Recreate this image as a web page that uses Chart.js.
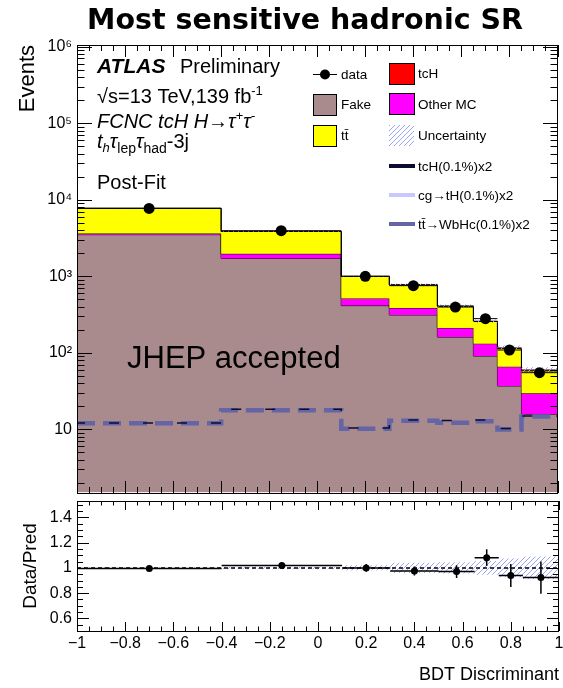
<!DOCTYPE html>
<html>
<head>
<meta charset="utf-8">
<title>Most sensitive hadronic SR</title>
<script src="https://cdn.jsdelivr.net/npm/chart.js@4.4.1/dist/chart.umd.min.js"></script>
<style>
  body { margin: 0; background: #fff; }
  #plot { position: relative; width: 563px; height: 688px; }
  #plot canvas { position: absolute; left: 0; }
  #main { top: 0; }
  #ratio { top: 497px; }
</style>
</head>
<body>
<div id="plot">
  <canvas id="main" width="563" height="498"></canvas>
  <canvas id="ratio" width="563" height="191"></canvas>
</div>
<script>
// BDT bins and post-fit yields
const binEdges = [-1, -0.4, 0.1, 0.3, 0.5, 0.65, 0.75, 0.85, 1];
const fake     = [3500, 1710, 414, 313, 161, 91, 37, 15.8];
const otherMC  = [130, 255, 100, 73, 51, 41, 29, 13.9];
const ttbar    = [4100, 1895, 483, 385, 195, 125, 48, 28.2];
const tcH      = [5, 5, 3, 3, 2, 2, 2, 1.8];
const dataEvents   = [7700, 3940, 1000, 755, 397, 280, 109, 55.1];
const dataRatioErr = [0.011, 0.016, 0.03, 0.035, 0.05, 0.066, 0.092, 0.127];
const relUncert    = [0.005, 0.01, 0.02, 0.04, 0.045, 0.055, 0.075, 0.09];

// signal templates, scaled x2
const sigTcH  = [12.1, 18.3, 10.4, 13.3, 13.1, 13.3, 10.3, 15.0];
const sigCgtH = [0.1, 0.5, 0.2, 0.3, 0.9, 0.5, 0.3, 0.2];
const sigWbHc = [12.0, 17.8, 10.2, 13.0, 12.2, 12.8, 10.0, 14.8];

const xTicks = [-1, -0.8, -0.6, -0.4, -0.2, 0, 0.2, 0.4, 0.6, 0.8, 1];
const yDecades = [10, 100, 1000, 10000, 100000, 1000000];
const ratioTicks = [0.6, 0.8, 1, 1.2, 1.4];

const SANS = '"Liberation Sans", Arial, Helvetica, sans-serif';
const C_FAKE = '#a98b8d';
const C_OTHER = '#ff00ff';
const C_TT = '#ffff00';
const C_TCH = '#ff0000';
const C_SIG = '#0b0b33';
const C_CG = '#c8c8ff';
const C_WBHC = '#6464a6';

function f(size, style) { return (style || '') + ' ' + size + 'px ' + SANS; }

function steps(vals) {
  const pts = vals.map((v, i) => ({ x: binEdges[i], y: v }));
  pts.push({ x: binEdges[binEdges.length - 1], y: vals[vals.length - 1] });
  return pts;
}
function addUp(...arrs) {
  return arrs[0].map((_, i) => arrs.reduce((s, a) => s + a[i], 0));
}

const centers = binEdges.slice(0, -1).map((e, i) => (e + binEdges[i + 1]) / 2);
const cumOther = addUp(fake, otherMC);
const cumTt = addUp(fake, otherMC, ttbar);
const totalPred = addUp(fake, otherMC, ttbar, tcH);
const ratio = dataEvents.map((d, i) => d / totalPred[i]);

function hatch(color) {
  const c = document.createElement('canvas');
  c.width = 5; c.height = 5;
  const g = c.getContext('2d');
  g.strokeStyle = color;
  g.lineWidth = 1;
  g.beginPath();
  g.moveTo(0, 5); g.lineTo(5, 0);
  g.moveTo(-1, 1); g.lineTo(1, -1);
  g.moveTo(4, 6); g.lineTo(6, 4);
  g.stroke();
  return g.createPattern(c, 'repeat');
}
const hatchFill = hatch('#9ea4f4');

function histLine(vals, fill, color, order) {
  return {
    data: steps(vals), stepped: 'before', fill: fill, backgroundColor: color,
    borderColor: '#000', borderWidth: 1, pointRadius: 0, order: order
  };
}
function dashLine(vals, color, width, dash, offset, order) {
  return {
    data: steps(vals), stepped: 'before', fill: false, borderColor: color,
    borderWidth: width, borderDash: dash, borderDashOffset: offset, pointRadius: 0, order: order
  };
}

// keep the plot frame fixed: no extra room for the end labels
function noEdgePadding(s) {
  s.paddingTop = 0; s.paddingBottom = 0; s.paddingLeft = 0; s.paddingRight = 0;
}

// ROOT style frame with inward ticks on all four sides
function frameTicks(xMarks, yMarks) {
  return {
    id: 'frameTicks',
    afterDraw(chart) {
      const { ctx, chartArea: a, scales } = chart;
      const L = Math.round(a.left), R = Math.round(a.right), T = Math.round(a.top), B = Math.round(a.bottom);
      ctx.save();
      ctx.strokeStyle = '#000';
      ctx.lineWidth = 1;
      ctx.beginPath();
      xMarks.forEach(([v, len]) => {
        const px = Math.round(scales.x.getPixelForValue(v)) + 0.5;
        ctx.moveTo(px, B); ctx.lineTo(px, B - len);
        ctx.moveTo(px, T); ctx.lineTo(px, T + len);
      });
      yMarks.forEach(([v, len]) => {
        const py = Math.round(scales.y.getPixelForValue(v)) + 0.5;
        ctx.moveTo(L, py); ctx.lineTo(L + len, py);
        ctx.moveTo(R, py); ctx.lineTo(R - len, py);
      });
      ctx.stroke();
      ctx.strokeRect(L + 0.5, T + 0.5, R - L - 1, B - T);
      ctx.restore();
    }
  };
}

function xMarks(major, minor) {
  const out = [];
  for (let k = -20; k <= 20; k++) out.push([k * 0.05, k % 4 === 0 ? major : minor]);
  return out;
}
const mainYMarks = [];
for (let e = 0; e <= 6; e++) {
  for (let m = 1; m <= 9; m++) {
    const v = m * Math.pow(10, e);
    if (v >= 1.5 && v <= 1.05e6) mainYMarks.push([v, m === 1 ? 15 : 7.5]);
  }
}
const ratioYMarks = [];
for (let k = 10; k <= 30; k++) ratioYMarks.push([k * 0.05, k % 4 === 0 ? 12 : 6]);

// data error bars: bin width horizontally, stat error vertically
function errorBars(values, errs, width) {
  return {
    id: 'errorBars',
    afterDatasetsDraw(chart) {
      const { ctx, scales } = chart;
      ctx.save();
      ctx.strokeStyle = '#000';
      ctx.lineWidth = width;
      ctx.beginPath();
      values.forEach((v, i) => {
        const y = scales.y.getPixelForValue(v);
        ctx.moveTo(scales.x.getPixelForValue(binEdges[i]), y);
        ctx.lineTo(scales.x.getPixelForValue(binEdges[i + 1]), y);
        const xc = scales.x.getPixelForValue(centers[i]);
        ctx.moveTo(xc, scales.y.getPixelForValue(v + errs[i]));
        ctx.lineTo(xc, scales.y.getPixelForValue(v - errs[i]));
      });
      ctx.stroke();
      ctx.restore();
    }
  };
}

function drawRuns(ctx, x, y, parts) {
  parts.forEach(([text, font, dy]) => {
    ctx.font = font;
    ctx.fillText(text, x, y + (dy || 0));
    x += ctx.measureText(text).width;
  });
}

const labels = {
  id: 'labels',
  afterDraw(chart) {
    const ctx = chart.ctx;
    ctx.save();
    ctx.fillStyle = '#000';
    ctx.textBaseline = 'alphabetic';

    ctx.textAlign = 'center';
    ctx.font = 'bold 28.5px "DejaVu Sans", ' + SANS;
    ctx.fillText('Most sensitive hadronic SR', 305, 29);
    ctx.textAlign = 'left';

    drawRuns(ctx, 97, 73, [['ATLAS', f(21, 'italic bold')]]);
    drawRuns(ctx, 180, 73, [['Preliminary', f(20)]]);
    drawRuns(ctx, 97, 103, [['\u221As=13 TeV,139 fb', f(20)], ['-1', f(13), -8]]);
    drawRuns(ctx, 97, 128, [['FCNC tcH H\u2192\u03c4', f(20, 'italic')], ['+', f(13, 'italic'), -8],
      ['\u03c4', f(20, 'italic')], ['-', f(13, 'italic'), -8]]);
    drawRuns(ctx, 97, 148, [['t', f(20, 'italic')], ['h', f(13, 'italic'), 4], ['\u03c4', f(20, 'italic')],
      ['lep', f(14), 5], ['\u03c4', f(20, 'italic')], ['had', f(14), 5], ['-3j', f(20)]]);
    drawRuns(ctx, 97, 189, [['Post-Fit', f(20)]]);
    drawRuns(ctx, 127, 368, [['JHEP accepted', f(31)]]);

    // legend
    ctx.lineWidth = 1;
    ctx.strokeStyle = '#000';
    const box = (x, y, w, h, fill) => {
      ctx.fillStyle = fill;
      ctx.fillRect(x, y, w, h);
      ctx.strokeRect(x + 0.5, y + 0.5, w, h);
    };
    ctx.beginPath();
    ctx.moveTo(313, 74.5); ctx.lineTo(337, 74.5);
    ctx.stroke();
    ctx.fillStyle = '#000';
    ctx.beginPath();
    ctx.arc(325, 74.5, 5, 0, Math.PI * 2);
    ctx.fill();
    box(313, 94, 23, 21, C_FAKE);
    box(313, 125, 23, 21, C_TT);
    box(389, 63, 25, 21, C_TCH);
    box(389, 93, 25, 21, C_OTHER);
    ctx.fillStyle = hatchFill;
    ctx.fillRect(389, 125, 25, 21);
    [[166, C_SIG], [195, C_CG], [224, C_WBHC]].forEach(([y, c]) => {
      ctx.strokeStyle = c;
      ctx.lineWidth = 4;
      ctx.beginPath();
      ctx.moveTo(389, y); ctx.lineTo(415, y);
      ctx.stroke();
    });
    ctx.fillStyle = '#000';
    ctx.font = f(13.5);
    ctx.fillText('data', 341, 79);
    ctx.fillText('Fake', 341, 109);
    ctx.fillText('t', 341, 140);
    ctx.fillText('t\u0304', 341 + ctx.measureText('t').width, 140);
    ctx.fillText('tcH', 418, 78);
    ctx.fillText('Other MC', 418, 109);
    ctx.fillText('Uncertainty', 418, 140);
    ctx.fillText('tcH(0.1%)x2', 418, 171);
    ctx.fillText('cg\u2192tH(0.1%)x2', 418, 200);
    ctx.fillText('tt\u0304\u2192WbHc(0.1%)x2', 418, 229);
    ctx.restore();
  }
};

const common = {
  responsive: false,
  animation: false,
  events: [],
  plugins: { legend: { display: false }, tooltip: { enabled: false } }
};

new Chart(document.getElementById('main'), {
  type: 'line',
  data: {
    datasets: [
      histLine(fake, 'start', C_FAKE, 9),
      histLine(cumOther, '-1', C_OTHER, 8),
      histLine(cumTt, '-1', C_TT, 7),
      histLine(totalPred, '-1', C_TCH, 6),
      { data: steps(totalPred.map((t, i) => t * (1 + relUncert[i]))), stepped: 'before', fill: '+1',
        backgroundColor: hatchFill, borderWidth: 0, pointRadius: 0, order: 5 },
      { data: steps(totalPred.map((t, i) => t * (1 - relUncert[i]))), stepped: 'before', fill: false,
        borderWidth: 0, pointRadius: 0, order: 5 },
      dashLine(sigCgtH, C_CG, 4, [14, 7], 0, 4),
      dashLine(sigWbHc, C_WBHC, 4.5, [18, 8], 0, 3),
      dashLine(sigTcH, C_SIG, 1.5, [10, 24], 2, 2),
      { data: centers.map((c, i) => ({ x: c, y: dataEvents[i] })), showLine: false,
        pointRadius: 5.5, pointBackgroundColor: '#000', pointBorderWidth: 0, order: 1 }
    ]
  },
  options: Object.assign({}, common, {
    layout: { padding: { top: 45, right: 3, bottom: 1, left: 0 } },
    scales: {
      x: { type: 'linear', min: -1, max: 1, display: false },
      y: {
        type: 'logarithmic', min: 1.5, max: 1.05e6,
        afterFit: s => { s.width = 77; noEdgePadding(s); },
        afterBuildTicks: s => { s.ticks = yDecades.map(v => ({ value: v })); },
        grid: { display: false, drawTicks: false },
        border: { display: false },
        ticks: {
          padding: 5, color: '#000', font: { family: SANS, size: 16 },
          callback: v => v === 10 ? '10' : '10' + '\u2070\u00b9\u00b2\u00b3\u2074\u2075\u2076'[Math.round(Math.log10(v))]
        },
        title: { display: true, text: 'Events', align: 'end', color: '#000',
          font: { family: SANS, size: 22 }, padding: { top: 15, bottom: 0 } }
      }
    }
  }),
  plugins: [errorBars(dataEvents, dataRatioErr.map((e, i) => e * totalPred[i]), 1),
    frameTicks(xMarks(12, 6), mainYMarks), labels]
});

new Chart(document.getElementById('ratio'), {
  type: 'line',
  data: {
    datasets: [
      { data: steps(relUncert.map(u => 1 + u)), stepped: 'before', fill: '+1',
        backgroundColor: hatchFill, borderWidth: 0, pointRadius: 0, order: 4 },
      { data: steps(relUncert.map(u => 1 - u)), stepped: 'before', fill: false,
        borderWidth: 0, pointRadius: 0, order: 4 },
      { data: [{ x: -1, y: 1 }, { x: 1, y: 1 }], borderColor: '#000', borderWidth: 1.5,
        borderDash: [4, 3], pointRadius: 0, fill: false, order: 3 },
      { data: centers.map((c, i) => ({ x: c, y: ratio[i] })), showLine: false,
        pointRadius: 3.5, pointBackgroundColor: '#000', pointBorderWidth: 0, order: 1 }
    ]
  },
  options: Object.assign({}, common, {
    layout: { padding: { top: 0, right: 3, bottom: 0, left: 0 } },
    scales: {
      x: {
        type: 'linear', min: -1, max: 1,
        afterFit: s => { s.height = 57; noEdgePadding(s); },
        afterBuildTicks: s => { s.ticks = xTicks.map(v => ({ value: v })); },
        grid: { display: false, drawTicks: false },
        border: { display: false },
        ticks: {
          padding: 3, color: '#000', maxRotation: 0, autoSkip: false,
          font: { family: SANS, size: 16 },
          callback: v => (v < 0 ? '\u2212' : '') + String(Math.abs(v))
        },
        title: { display: true, text: 'BDT Discriminant', align: 'end', color: '#000',
          font: { family: SANS, size: 18 }, padding: { top: 0, bottom: 2 } }
      },
      y: {
        type: 'linear', min: 0.5, max: 1.53,
        afterFit: s => { s.width = 77; noEdgePadding(s); },
        afterBuildTicks: s => { s.ticks = ratioTicks.map(v => ({ value: v })); },
        grid: { display: false, drawTicks: false },
        border: { display: false },
        ticks: { padding: 5, color: '#000', font: { family: SANS, size: 16 }, callback: v => String(v) },
        title: { display: true, text: 'Data/Pred', align: 'center', color: '#000',
          font: { family: SANS, size: 19 }, padding: { top: 19, bottom: 0 } }
      }
    }
  }),
  plugins: [errorBars(ratio, dataRatioErr, 1.5), frameTicks(xMarks(9, 4.5), ratioYMarks)]
});
</script>
</body>
</html>
